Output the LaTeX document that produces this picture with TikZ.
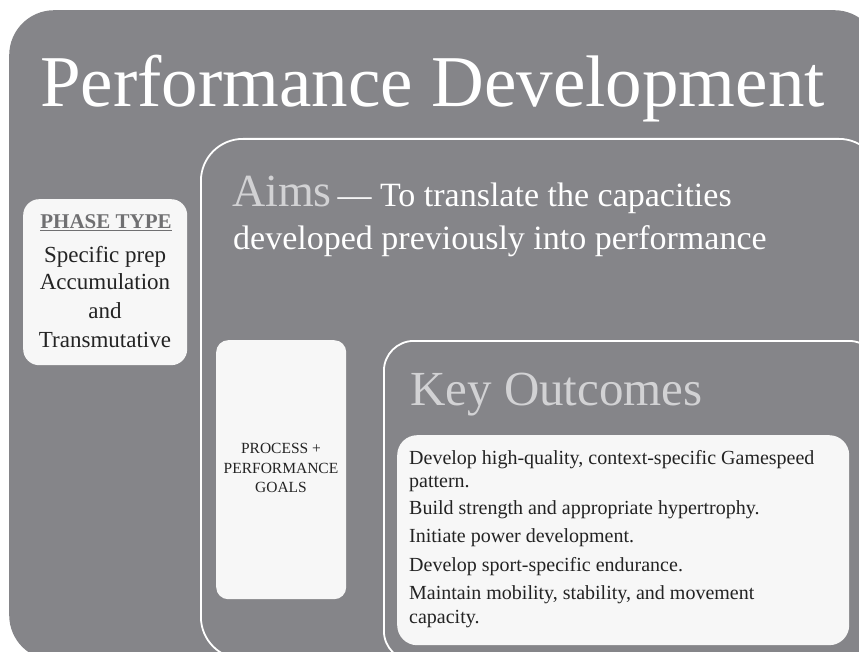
\documentclass[tikz,border=0pt]{standalone}
\usepackage{fontspec}
\setmainfont{Liberation Serif}
\usetikzlibrary{positioning}

\definecolor{panelgray}{HTML}{858589}
\definecolor{cardwhite}{HTML}{F7F7F7}
\definecolor{headgray}{HTML}{D2D2D4}
\definecolor{phasegray}{HTML}{707072}
\definecolor{inktext}{HTML}{232323}

\begin{document}
\begin{tikzpicture}[x=1pt, y=-1pt,
  outerpanel/.style={fill=panelgray, rounded corners=45pt, inner sep=0pt, anchor=north west},
  frameline/.style={draw=white, line width=1.8pt, inner sep=0pt, anchor=north west},
  card/.style={fill=cardwhite, inner sep=0pt, anchor=north west},
  phaseline/.style={anchor=base, inner sep=0pt, text=inktext, font=\fontsize{23}{23}\selectfont},
  goalline/.style={anchor=base, inner sep=0pt, text=inktext, font=\fontsize{15.5}{15.5}\selectfont},
  outcome/.style={anchor=base west, inner sep=0pt, text=inktext, font=\fontsize{20}{20}\selectfont}]
  \useasboundingbox (0,0) rectangle (859,652);
  \clip (0,0) rectangle (859,652);

  % panels and frames
  \node[outerpanel, minimum width=870pt, minimum height=650pt] (panel) at (9,10) {};
  \node[frameline, rounded corners=42pt, minimum width=680pt, minimum height=520pt] (aimsframe) at (200,138) {};
  \node[frameline, rounded corners=30pt, minimum width=495pt, minimum height=320pt] (koframe) at (383,340) {};

  % white cards
  \node[card, rounded corners=16pt, minimum width=164pt, minimum height=166pt] (phasecard) at (23,199) {};
  \node[card, rounded corners=12pt, minimum width=130pt, minimum height=259pt] (goalcard) at (216,340) {};
  \node[card, rounded corners=20pt, minimum width=452pt, minimum height=210pt] (kocard) at (397,435) {};

  % title
  \node[anchor=base, inner sep=0pt, text=white, font=\fontsize{73}{73}\selectfont] (title) at (432.5,107) {Performance Development};

  % aims
  \node[anchor=base west, inner sep=0pt, text=white, font=\fontsize{34}{34}\selectfont] (aimsline1) at (232,207)
    {{\color{headgray}\fontsize{46}{46}\selectfont Aims}\,— To translate the capacities};
  \node[anchor=base west, inner sep=0pt, text=white, font=\fontsize{34}{34}\selectfont] (aimsline2) at (233,250)
    {developed previously into performance};

  % phase type
  \node[anchor=base, inner sep=0pt, text=phasegray, font=\fontsize{21}{21}\selectfont\bfseries] (phasehead) at (106,229) {\underline{PHASE TYPE}};
  \foreach \yb/\txt [count=\i] in {262/Specific prep, 290/Accumulation, 318/and, 347/Transmutative}
    \node[phaseline] (phase\i) at (105,\yb) {\txt};

  % goals
  \foreach \yb/\txt [count=\i] in {453/PROCESS +, 473/PERFORMANCE, 492/GOALS}
    \node[goalline] (goal\i) at (281,\yb) {\txt};

  % key outcomes
  \node[anchor=base west, inner sep=0pt, text=headgray, font=\fontsize{49}{49}\selectfont] (kohead) at (410,405) {Key Outcomes};
  \foreach \yb/\txt [count=\i] in {464/{Develop high-quality, context-specific Gamespeed}, 487/pattern.,
      514/Build strength and appropriate hypertrophy., 542/Initiate power development.,
      571/Develop sport-specific endurance., 599/{Maintain mobility, stability, and movement}, 623/capacity.}
    \node[outcome] (item\i) at (409,\yb) {\txt};
\end{tikzpicture}
\end{document}
